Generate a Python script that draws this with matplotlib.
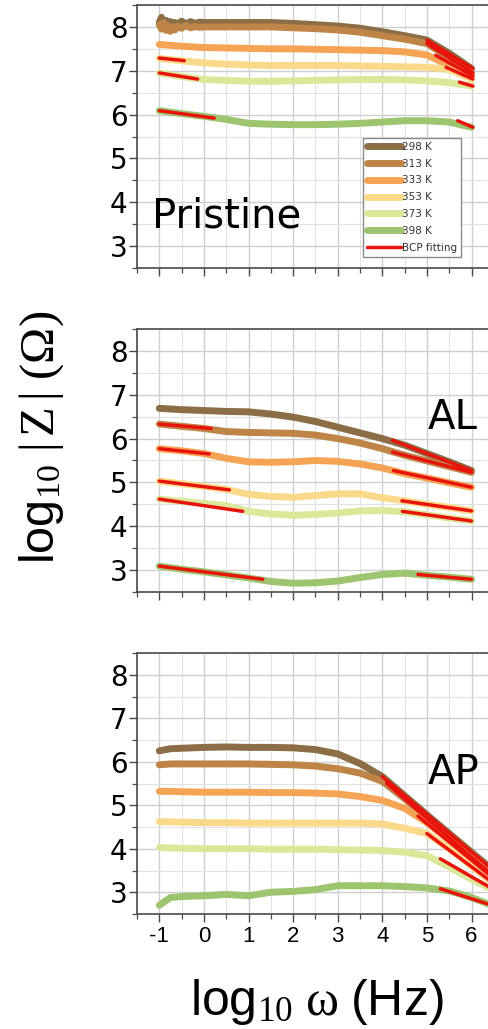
import matplotlib
matplotlib.use("Agg")
import matplotlib.pyplot as plt
from matplotlib.ticker import MultipleLocator

plt.rcParams['mathtext.fontset'] = 'custom'
plt.rcParams['mathtext.rm'] = 'Liberation Serif'
plt.rcParams['mathtext.sf'] = 'Liberation Sans'
plt.rcParams['mathtext.it'] = 'Liberation Serif:italic'

temps = ['298 K', '313 K', '333 K', '353 K', '373 K', '398 K']
colors = ['#8c6d46', '#bf8548', '#f5a455', '#fbd98a', '#dbe89a', '#9dc46e']
fit_color = '#e8140c'

# common frequency grid (log10 omega)
x_grid = [-1, -0.5, 0, 0.5, 1, 1.5, 2, 2.5, 3, 3.5, 4, 4.5, 5, 5.5, 6]
x_grid_ap = [-1, -0.75, -0.5, 0, 0.5, 1, 1.5, 2, 2.5, 3, 3.5, 4, 4.5, 5, 5.5, 6, 6.4]

# Pristine: 298 K and 313 K are noisy at low frequency
x_noisy = [-1, -0.95, -0.9, -0.85, -0.8, -0.75, -0.7, -0.65, -0.6, -0.5, -0.4, -0.3,
           -0.2, -0.1, 0, 0.5, 1, 1.5, 2, 2.5, 3, 3.5, 4, 4.5, 5, 5.5, 6]
pri_298 = [8.1, 8.22, 8.0, 8.15, 8.05, 8.12, 7.98, 8.1, 8.06, 8.13, 8.07, 8.12, 8.08,
           8.11, 8.1, 8.1, 8.1, 8.1, 8.08, 8.05, 8.02, 7.97, 7.89, 7.8, 7.7, 7.4, 7.05]
pri_313 = [8.05, 7.95, 8.1, 7.92, 8.02, 7.9, 8.0, 7.93, 8.02, 7.97, 8.03, 7.98, 8.01,
           7.99, 8.0, 8.0, 8.0, 8.0, 7.98, 7.96, 7.93, 7.88, 7.8, 7.72, 7.62, 7.3, 6.95]
pri_333 = [7.6, 7.56, 7.53, 7.52, 7.51, 7.5, 7.5, 7.49, 7.48, 7.47, 7.46, 7.43, 7.36, 7.12, 6.88]
pri_353 = [7.28, 7.23, 7.18, 7.15, 7.13, 7.12, 7.12, 7.12, 7.12, 7.11, 7.1, 7.09, 7.08, 7.03, 6.81]
pri_373 = [6.95, 6.87, 6.8, 6.78, 6.76, 6.76, 6.77, 6.78, 6.79, 6.8, 6.8, 6.79, 6.77, 6.73, 6.65]
pri_398 = [6.09, 6.02, 5.96, 5.89, 5.8, 5.78, 5.77, 5.77, 5.78, 5.8, 5.83, 5.86, 5.86, 5.83, 5.71]

pri_fit_x = [[-1, -0.44], [-1, -0.14], [-1, 0.23],
             [5.0, 6.03], [5.0, 6.03], [5.2, 6.03], [5.43, 6.03], [5.73, 6.03], [5.69, 6.03]]
pri_fit_y = [[7.29, 7.23], [6.95, 6.81], [6.09, 5.92],
             [7.7, 7.05], [7.62, 6.95], [7.35, 6.88], [7.08, 6.81], [6.74, 6.65], [5.86, 5.71]]

# AL
al_298 = [6.69, 6.66, 6.64, 6.62, 6.61, 6.56, 6.49, 6.39, 6.26, 6.13, 6.0, 5.85, 5.66, 5.47, 5.27]
al_313 = [6.33, 6.28, 6.23, 6.16, 6.14, 6.13, 6.12, 6.08, 6.0, 5.9, 5.77, 5.62, 5.49, 5.36, 5.23]
al_333 = [5.77, 5.72, 5.66, 5.55, 5.47, 5.46, 5.47, 5.5, 5.48, 5.42, 5.33, 5.2, 5.1, 4.99, 4.89]
al_353 = [5.03, 4.97, 4.91, 4.84, 4.73, 4.68, 4.66, 4.7, 4.74, 4.74, 4.65, 4.58, 4.5, 4.43, 4.35]
al_373 = [4.62, 4.57, 4.52, 4.47, 4.34, 4.28, 4.25, 4.27, 4.3, 4.35, 4.36, 4.33, 4.26, 4.19, 4.12]
al_398 = [3.09, 3.02, 2.96, 2.89, 2.82, 2.74, 2.7, 2.71, 2.75, 2.83, 2.9, 2.93, 2.88, 2.84, 2.79]

al_fit_x = [[4.23, 6.0], [-1, 0.16], [4.23, 6.0], [-1, 0.12], [4.25, 6.0],
            [-1, 0.57], [4.44, 6.0], [-1, 0.87], [4.45, 6.0], [-1, 1.32], [4.8, 6.0]]
al_fit_y = [[5.96, 5.27], [6.33, 6.23], [5.69, 5.23], [5.77, 5.65], [5.27, 4.89],
            [5.03, 4.83], [4.58, 4.35], [4.62, 4.34], [4.34, 4.12], [3.09, 2.79], [2.9, 2.79]]

# AP
ap_298 = [6.25, 6.3, 6.31, 6.33, 6.34, 6.33, 6.33, 6.32, 6.28, 6.18, 5.96, 5.66, 5.22, 4.78, 4.35, 3.92, 3.58]
ap_313 = [5.93, 5.95, 5.95, 5.95, 5.95, 5.95, 5.94, 5.93, 5.9, 5.84, 5.74, 5.55, 5.15, 4.72, 4.3, 3.87, 3.45]
ap_333 = [5.32, 5.32, 5.31, 5.3, 5.3, 5.3, 5.29, 5.29, 5.28, 5.26, 5.2, 5.11, 4.93, 4.6, 4.2, 3.78, 3.4]
ap_353 = [4.62, 4.62, 4.61, 4.6, 4.6, 4.59, 4.59, 4.59, 4.59, 4.59, 4.59, 4.57, 4.47, 4.35, 4.0, 3.6, 3.28]
ap_373 = [4.03, 4.02, 4.01, 4.0, 4.0, 4.0, 3.99, 3.99, 3.99, 3.98, 3.97, 3.96, 3.92, 3.84, 3.58, 3.3, 3.1]
ap_398 = [2.7, 2.88, 2.9, 2.92, 2.95, 2.92, 3.0, 3.02, 3.06, 3.15, 3.15, 3.15, 3.13, 3.1, 3.03, 2.88, 2.72]

ap_fit_x = [[4.0, 6.4], [4.1, 6.4], [4.8, 6.4], [5.0, 6.4], [5.3, 6.4], [5.3, 6.4]]
ap_fit_y = [[5.66, 3.58], [5.5, 3.45], [4.75, 3.4], [4.35, 3.28], [3.77, 3.12], [3.08, 2.72]]

panels = [
    ('Pristine', [x_noisy, x_noisy] + [x_grid] * 4,
     [pri_298, pri_313, pri_333, pri_353, pri_373, pri_398], pri_fit_x, pri_fit_y),
    ('AL', [x_grid] * 6, [al_298, al_313, al_333, al_353, al_373, al_398], al_fit_x, al_fit_y),
    ('AP', [x_grid_ap] * 6, [ap_298, ap_313, ap_333, ap_353, ap_373, ap_398], ap_fit_x, ap_fit_y),
]

fig = plt.figure(figsize=(4.88, 10.29), dpi=100)
H = 1029.0
ax_left = 137 / 488
ax_width = 8 * 44.6 / 488
tops_bottoms = [(5, 268), (329, 592), (653, 914)]
spine_col = '#4a4a4a'

axes = []
for i, (name, xs, ys, fx, fy) in enumerate(panels):
    top, bot = tops_bottoms[i]
    ax = fig.add_axes([ax_left, 1 - bot / H, ax_width, (bot - top) / H])
    axes.append(ax)
    for j in range(6):
        ax.plot(xs[j], ys[j], color=colors[j], lw=5, solid_capstyle='round',
                solid_joinstyle='round', label=temps[j], zorder=3)
    for k in range(len(fx)):
        ax.plot(fx[k], fy[k], color=fit_color, lw=2.5, solid_capstyle='round',
                zorder=4, label='BCP fitting' if k == 0 else None)

    ax.set_xlim(-1.5, 6.5)
    ax.set_ylim(2.5, 8.5)
    ax.xaxis.set_major_locator(MultipleLocator(1))
    ax.xaxis.set_minor_locator(MultipleLocator(0.5))
    ax.set_yticks([3, 4, 5, 6, 7, 8])
    ax.yaxis.set_minor_locator(MultipleLocator(0.5))
    ax.grid(which='major', color='#cfcfcf', lw=1.0, zorder=0)
    ax.grid(which='minor', color='#e2e2e2', lw=0.8, zorder=0)
    ax.set_axisbelow(True)
    ax.spines['right'].set_visible(False)
    for s in ['top', 'left', 'bottom']:
        ax.spines[s].set_color(spine_col)
        ax.spines[s].set_linewidth(1.2)
    ax.tick_params(which='major', direction='out', length=6, width=1.0, color=spine_col, pad=1)
    ax.tick_params(which='minor', direction='out', length=3.5, width=0.9, color=spine_col)
    ax.tick_params(axis='y', labelsize=20)
    for lab in ax.get_yticklabels():
        lab.set_family('DejaVu Sans')
    if i < 2:
        ax.tick_params(axis='x', labelbottom=False)
    else:
        ax.tick_params(axis='x', labelsize=16, pad=3)
        ax.set_xticks(range(-1, 7))
        ax.set_xticklabels([str(v) for v in range(-1, 7)], family='Liberation Sans')

axes[0].text(-1.16, 3.43, 'Pristine', fontsize=29, family='DejaVu Sans', ha='left', va='baseline')
axes[1].text(6.14, 6.23, 'AL', fontsize=29, family='DejaVu Sans', ha='right', va='baseline')
axes[2].text(6.18, 5.5, 'AP', fontsize=29, family='DejaVu Sans', ha='right', va='baseline')

leg = axes[0].legend(loc='upper left', bbox_to_anchor=(363 / 488, 1 - 138 / H),
                     bbox_transform=fig.transFigure, borderaxespad=0,
                     prop={'family': 'DejaVu Sans', 'size': 7.5}, handlelength=3.3,
                     handletextpad=0.1, labelspacing=0.66, borderpad=0.35,
                     fancybox=False, framealpha=1, edgecolor='#8a8a8a')
leg.get_frame().set_linewidth(1.0)
for t in leg.get_texts():
    t.set_color('#333333')

fig.text(42 / 488, 1 - 437 / H, r'$\mathsf{log}_{\mathrm{10}}\ \mathrm{|\,Z\,|\ (\Omega)}$',
         fontsize=35, rotation=90, ha='center', va='center')
fig.text(317 / 488, 1 - 1002 / H, r'$\mathsf{log}_{\mathrm{10}}\ \mathrm{\omega}\ \mathsf{(Hz)}$',
         fontsize=36, ha='center', va='center')

fig.savefig('out.png', dpi=100)
